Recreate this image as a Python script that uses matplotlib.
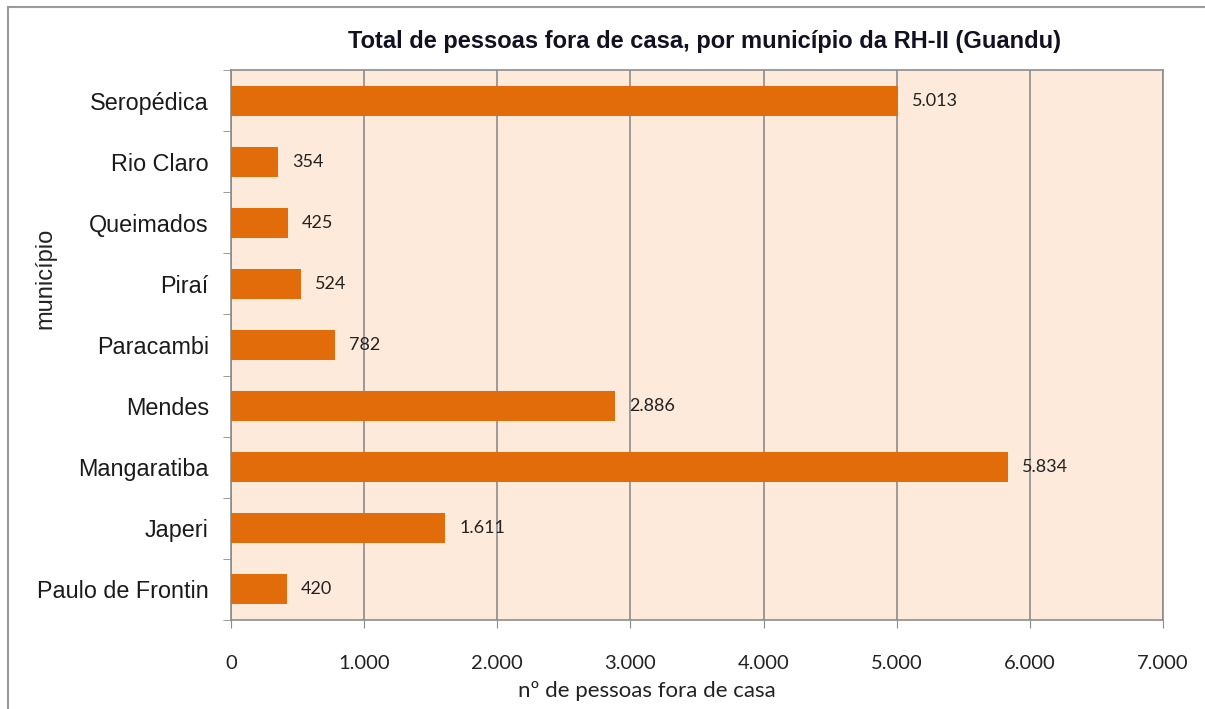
import matplotlib
matplotlib.use("Agg")
import matplotlib.pyplot as plt
import matplotlib.ticker as mticker
from matplotlib.lines import Line2D
import numpy as np

# data (top to bottom as in the chart)
municipios = ["Seropédica", "Rio Claro", "Queimados", "Piraí", "Paracambi",
              "Mendes", "Mangaratiba", "Japeri", "Paulo de Frontin"]
pessoas = [5013, 354, 425, 524, 782, 2886, 5834, 1611, 420]
xticks = [0, 1000, 2000, 3000, 4000, 5000, 6000, 7000]

BAR = "#E36C0A"
BG = "#FDEADA"
GRID = "#8C8C8C"
ARIAL = "Liberation Sans"
CALIBRI = "Lato"


def fmt_br(v):
    return f"{int(v):,}".replace(",", ".")


fig = plt.figure(figsize=(12.05, 7.09), dpi=100)
ax = fig.add_axes([0.1917, 0.1255, 0.7734, 0.7757])

n = len(municipios)
y = np.arange(n)[::-1]
ax.barh(y, pessoas, height=0.49, color=BAR, zorder=3)

ax.set_xlim(0, 7000)
ax.set_ylim(-0.5, n - 0.5)
ax.set_facecolor(BG)

ax.set_xticks(xticks)
ax.xaxis.set_major_formatter(mticker.FuncFormatter(lambda v, p: fmt_br(v)))
for lbl in ax.get_xticklabels():
    lbl.set_fontfamily(CALIBRI)
ax.tick_params(axis="x", labelsize=14.5, length=6, color=GRID, direction="out",
               pad=19, labelcolor="#222222")
ax.grid(axis="x", color=GRID, linewidth=1.2, zorder=1)

ax.set_yticks(y)
ax.set_yticklabels(municipios, fontfamily=ARIAL, fontsize=16.8)
ax.tick_params(axis="y", length=0, pad=16, labelcolor="#1a1a1a")
ax.set_yticks(np.arange(-0.5, n, 1.0), minor=True)
ax.tick_params(axis="y", which="minor", length=6, color=GRID, direction="out")

for s in ax.spines.values():
    s.set_color(GRID)
    s.set_linewidth(1.2)

for yi, v in zip(y, pessoas):
    ax.annotate(fmt_br(v), (v, yi), xytext=(10, 0), textcoords="offset points",
                va="center", ha="left", fontsize=13, fontfamily=CALIBRI,
                color="#222222", zorder=4)

fig.text(0.585, 0.942, "Total de pessoas fora de casa, por município da RH-II (Guandu)",
         ha="center", va="center", fontsize=17, fontweight="bold",
         fontfamily=ARIAL, color="#111122")
fig.text(0.537, 0.026, "nº de pessoas fora de casa", ha="center", va="center",
         fontsize=16, fontfamily=CALIBRI, color="#222222")
fig.text(0.038, 0.608, "município", ha="center", va="center", rotation=90,
         fontsize=17, fontfamily=ARIAL, color="#222222")

# outer chart frame (only top and left edges visible in the crop)
fig.add_artist(Line2D([8 / 1205, 1.0], [1 - 7 / 709, 1 - 7 / 709],
                      transform=fig.transFigure, color="#9A9A9A", linewidth=1.5))
fig.add_artist(Line2D([8 / 1205, 8 / 1205], [0.0, 1 - 7 / 709],
                      transform=fig.transFigure, color="#9A9A9A", linewidth=1.5))

fig.savefig("out.png", dpi=100)
